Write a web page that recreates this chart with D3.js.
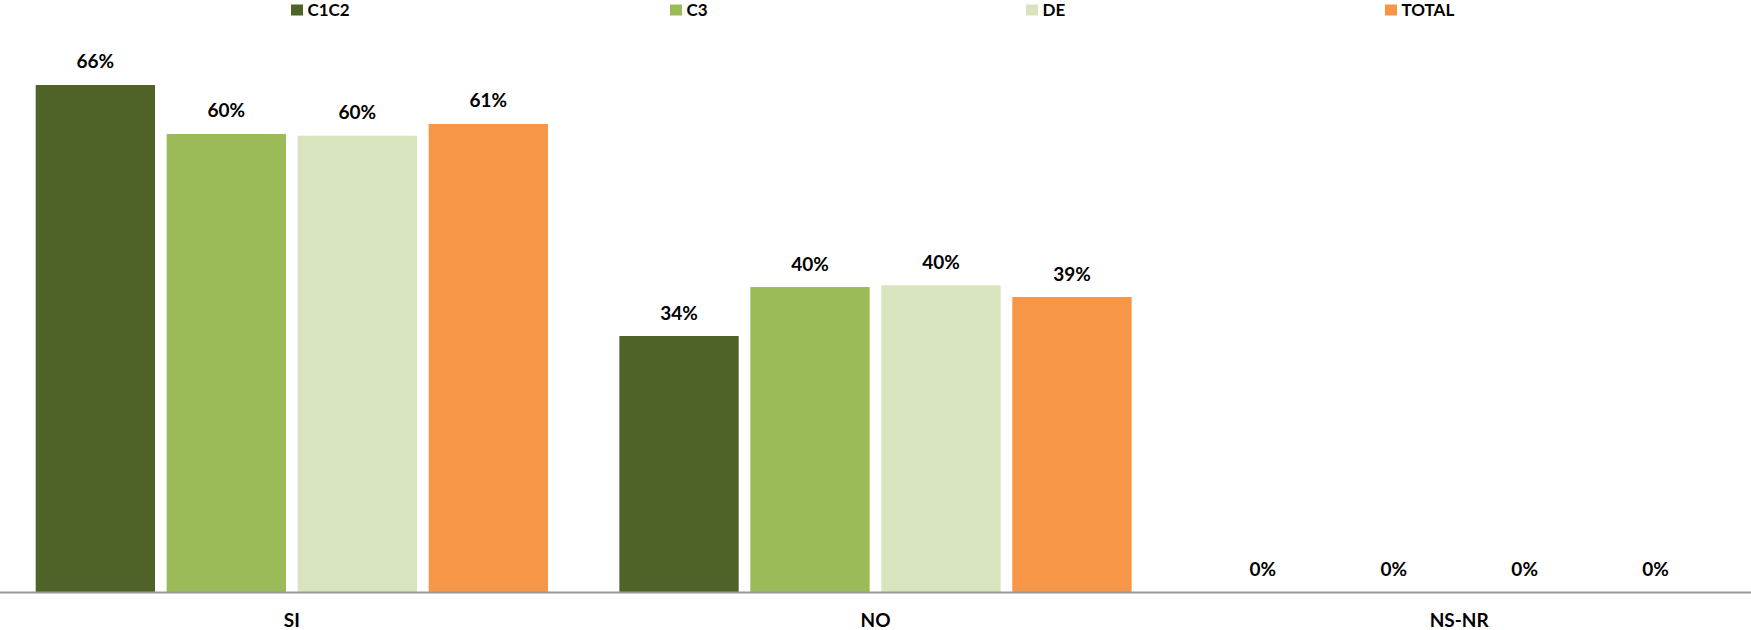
<!DOCTYPE html>
<html>
<head>
<meta charset="utf-8">
<script src="https://cdn.jsdelivr.net/npm/d3@7"></script>
<style>
  html, body { margin: 0; padding: 0; background: #fff; }
  svg { display: block; font-family: Lato, "Open Sans", sans-serif; font-weight: bold; }
</style>
</head>
<body>
<svg id="chart" width="1751" height="630"></svg>
<script>
// ---- data ----
const categories = ["SI", "NO", "NS-NR"];
const seriesNames = ["C1C2", "C3", "DE", "TOTAL"];
const c1c2Values = [0.6645, 0.3355, 0];
const c3Values = [0.6003, 0.3997, 0];
const deValues = [0.598, 0.402, 0];
const totalValues = [0.6134, 0.3866, 0];
const seriesColors = ["#4F6228", "#9BBB59", "#D7E4BD", "#F79646"];

const seriesValues = [c1c2Values, c3Values, deValues, totalValues];

// ---- layout ----
const W = 1751, H = 630;
const zeroY = 592;
const svg = d3.select("#chart");

const x0 = d3.scaleBand().domain(categories).range([0, W])
  .paddingInner(0.1223).paddingOuter(0.06115);
const x1 = d3.scaleBand().domain(seriesNames).range([0, x0.bandwidth()])
  .paddingInner(0.089).paddingOuter(0);
const y = d3.scaleLinear().domain([0, 0.7]).range([zeroY, zeroY - 0.7 * 763]);

const fmt = d3.format(".0%");

// bars
const rows = [];
categories.forEach((c, ci) => {
  seriesNames.forEach((s, si) => {
    rows.push({ cat: c, series: s, value: seriesValues[si][ci], color: seriesColors[si] });
  });
});

const g = svg.append("g");
g.selectAll("rect.bar").data(rows).join("rect")
  .attr("class", "bar")
  .attr("x", d => x0(d.cat) + x1(d.series))
  .attr("width", x1.bandwidth())
  .attr("y", d => y(d.value))
  .attr("height", d => zeroY - y(d.value))
  .attr("fill", d => d.color);

// value labels
g.selectAll("text.val").data(rows).join("text")
  .attr("class", "val")
  .attr("x", d => x0(d.cat) + x1(d.series) + x1.bandwidth() / 2)
  .attr("y", d => y(d.value) - 16.5)
  .attr("text-anchor", "middle")
  .attr("font-size", 19)
  .attr("fill", "#000")
  .text(d => fmt(d.value));

// x axis line
const xAxis = d3.axisBottom(x0).tickSize(0).tickPadding(0);
const axG = svg.append("g").attr("transform", `translate(0,${zeroY + 0.5})`).call(xAxis);
axG.select(".domain").attr("stroke", "#9a9a9a").attr("stroke-width", 2).attr("d", `M0,0H${W}`);
axG.selectAll(".tick text")
  .attr("font-size", 19)
  .attr("font-family", "Lato, 'Open Sans', sans-serif")
  .attr("font-weight", "bold")
  .attr("fill", "#000")
  .attr("dy", null)
  .attr("y", 34);

// legend
const legendX = [291, 670, 1026, 1385];
const leg = svg.append("g").selectAll("g").data(seriesNames).join("g")
  .attr("transform", (d, i) => `translate(${legendX[i]},0)`);
leg.append("rect").attr("x", 0).attr("y", 4.5).attr("width", 12).attr("height", 11)
  .attr("fill", (d, i) => seriesColors[i]);
leg.append("text").attr("x", 16.5).attr("y", 16).attr("font-size", 17)
  .attr("fill", "#000").text(d => d);
</script>
</body>
</html>
